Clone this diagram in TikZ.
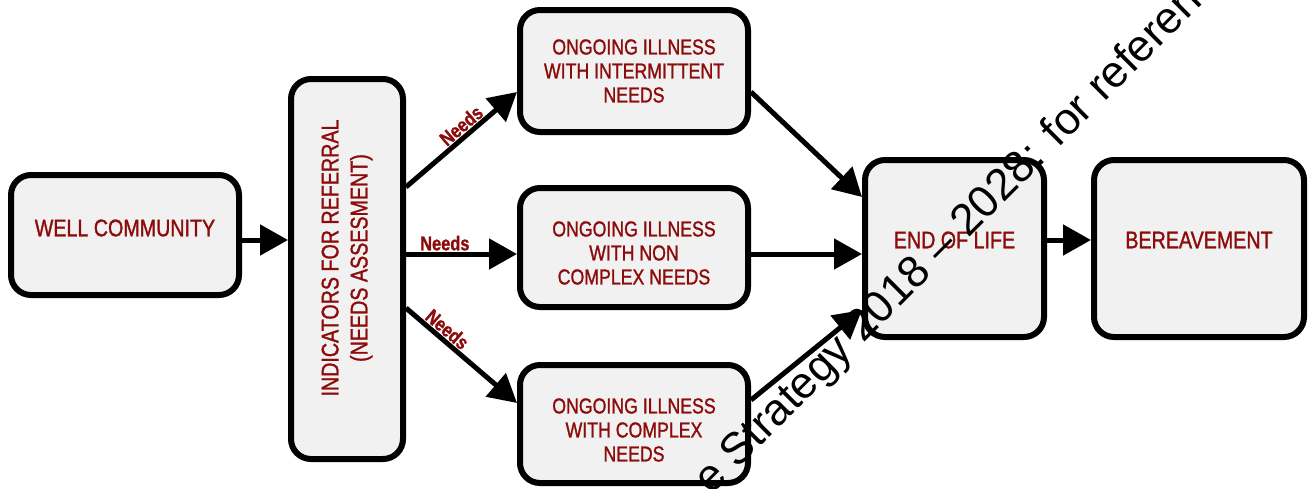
\documentclass[tikz,border=0pt]{standalone}
\usepackage{fontspec}
\setmainfont{Liberation Sans}
\newfontfamily\heavynarrowfont[FakeStretch=0.82,FakeBold=1.2]{Liberation Sans}
\usetikzlibrary{arrows.meta}
\definecolor{stagered}{RGB}{140,12,12}
\definecolor{stagefill}{RGB}{241,241,241}

\begin{document}
\begin{tikzpicture}[
        x=1pt, y=-1pt,
        stage/.style={draw=black, line width=6pt, fill=stagefill, rounded corners=20pt, inner sep=0pt},
        stagetext/.style={align=center, text=stagered, inner sep=0pt,
            font=\heavynarrowfont\fontsize{21.6pt}{24pt}\selectfont},
        bigtext/.style={stagetext, font=\heavynarrowfont\fontsize{24pt}{26pt}\selectfont},
        flow/.style={line width=5pt, -{Triangle[length=28pt,width=30pt]}},
        needs/.style={text=stagered, sloped, above, inner sep=1pt,
            font=\heavynarrowfont\bfseries\fontsize{20pt}{20pt}\selectfont}
    ]
    \useasboundingbox (0,0) rectangle (1310,488);

    % stages
    \node[stage, minimum width=228pt, minimum height=120pt] (well) at (125,235) {};
    \node[stage, minimum width=112pt, minimum height=380pt] (ind) at (347,269) {};
    \node[stage, minimum width=228pt, minimum height=122pt] (inter) at (634,71) {};
    \node[stage, minimum width=228pt, minimum height=119pt] (noncx) at (634,247.5) {};
    \node[stage, minimum width=228pt, minimum height=118pt] (cx) at (634,424) {};
    \node[stage, minimum width=179pt, minimum height=177pt] (eol) at (954.5,248.5) {};
    \node[stage, minimum width=210pt, minimum height=177pt] (bereave) at (1199,248.5) {};

    % stage texts
    \node[bigtext] (welltext) at ([yshift=7pt]well.center) {WELL COMMUNITY};
    \node[stagetext, rotate=90, font=\heavynarrowfont\fontsize{24pt}{29pt}\selectfont]
        (indtext) at ([yshift=11pt]ind.center) {INDICATORS FOR REFERRAL\\(NEEDS ASSESMENT)};
    \node[stagetext] (intertext) at (inter.center) {ONGOING ILLNESS\\WITH INTERMITTENT\\NEEDS};
    \node[stagetext] (noncxtext) at ([yshift=-5.5pt]noncx.center) {ONGOING ILLNESS\\WITH NON\\COMPLEX NEEDS};
    \node[stagetext] (cxtext) at ([yshift=-6pt]cx.center) {ONGOING ILLNESS\\WITH COMPLEX\\NEEDS};
    \node[bigtext] (eoltext) at ([yshift=8.5pt]eol.center) {END OF LIFE};
    \node[bigtext] (bereavetext) at ([yshift=8.5pt]bereave.center) {BEREAVEMENT};

    % connectors
    \draw[flow] ([yshift=-5pt]well.east) -- ([yshift=29pt]ind.west);
    \draw[flow] ([yshift=82pt]ind.east) -- node[needs, pos=0.56] {Needs} ([yshift=-21pt]inter.west);
    \draw[flow] ([yshift=15pt]ind.east) -- node[needs, pos=0.35] {Needs} ([yshift=-6.5pt]noncx.west);
    \draw[flow] ([yshift=-39pt]ind.east) -- node[needs, pos=0.31] {Needs} ([yshift=21pt]cx.west);
    \draw[flow] ([yshift=-21pt]inter.east) -- ([yshift=51.5pt]eol.west);
    \draw[flow] ([yshift=-6.5pt]noncx.east) -- ([yshift=-5.5pt]eol.west);
    \draw[flow] ([yshift=24pt]cx.east) -- ([yshift=-61.5pt]eol.west);
    \draw[flow] ([yshift=8.5pt]eol.east) -- ([yshift=8.5pt]bereave.west);

    % watermark
    \begin{scope}
        \clip (0,0) rectangle (1310,488);
        \node[rotate=45, anchor=base west, inner sep=0pt,
            font=\fontsize{44.5pt}{50pt}\selectfont] (mark) at (711,496)
            {e Strategy 2018 – 2028: for reference};
    \end{scope}
\end{tikzpicture}
\end{document}
